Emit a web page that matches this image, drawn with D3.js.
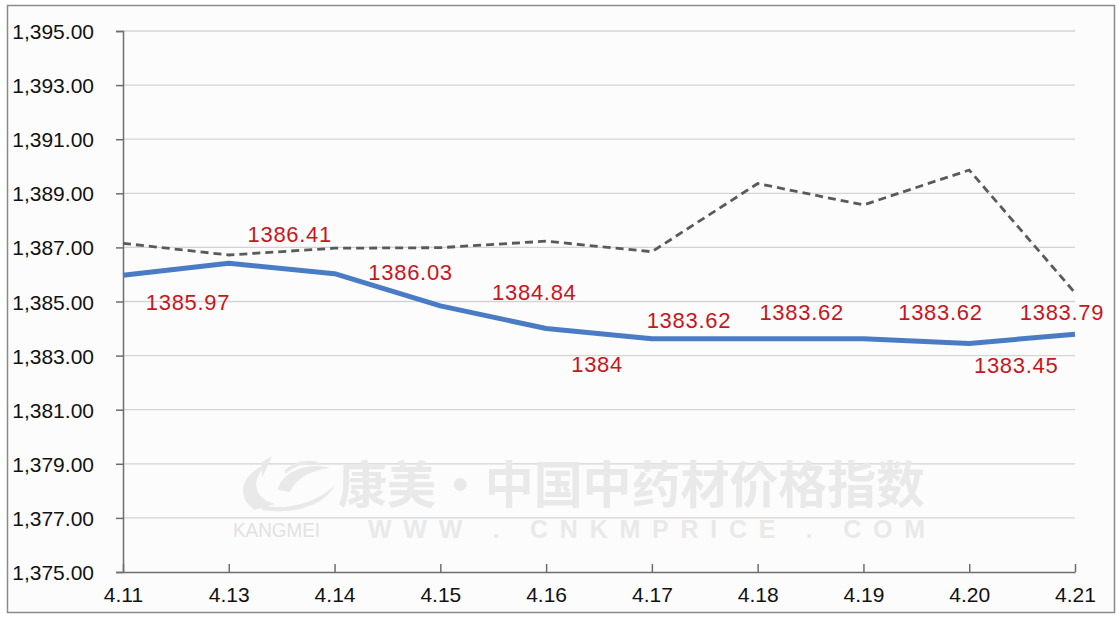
<!DOCTYPE html>
<html><head><meta charset="utf-8">
<script src="https://cdn.jsdelivr.net/npm/d3@7"></script>
<style>html,body{margin:0;padding:0;background:#fff;}svg{display:block;}</style>
</head><body>
<script>
// ---- data ----
const categories = ["4.11","4.13","4.14","4.15","4.16","4.17","4.18","4.19","4.20","4.21"];
const indexValues = [1385.97,1386.41,1386.03,1384.84,1384.00,1383.62,1383.62,1383.62,1383.45,1383.79];
const labelTexts = ["1385.97","1386.41","1386.03","1384.84","1384","1383.62","1383.62","1383.62","1383.45","1383.79"];
const compareValues = [1387.15,1386.72,1386.97,1386.99,1387.23,1386.84,1389.36,1388.57,1389.86,1385.32];
const yTicks = [1375,1377,1379,1381,1383,1385,1387,1389,1391,1393,1395];
// label placement (offset from its point, pixels)
const labelDx = [65,61,76,94,51,37,44,77,47,-13];
const labelDy = [35,-21,6,-6,43,-11,-19,-19,30,-14];

const W = 1118, H = 618;
const m = {left:123, right:1075, top:31, bottom:572};
const svg = d3.select("body").append("svg").attr("width",W).attr("height",H);

svg.append("rect").attr("x",7.5).attr("y",5.5).attr("width",1107).attr("height",607)
  .attr("fill","#fcfcfc").attr("stroke","#8a8a8a").attr("stroke-width",1.5);

const x = d3.scalePoint().domain(categories).range([m.left, m.right]).padding(0);
const y = d3.scaleLinear().domain([1375,1395]).range([m.bottom, m.top]);

// gridlines
svg.append("g").selectAll("line").data(yTicks.filter(t=>t>1375)).join("line")
  .attr("x1",m.left).attr("x2",m.right).attr("y1",d=>y(d)).attr("y2",d=>y(d))
  .attr("stroke","#d4d4d4").attr("stroke-width",1.3);

// watermark
const wm = svg.append("g").attr("fill","#e9e9e9");
wm.append("path").attr("d","M255,510 C238,500 238,478 262,466 L270,462 C250,478 252,498 275,504 Z");
wm.append("path").attr("d","M262,462 L272,456 L262,478 Z");
wm.append("path").attr("d","M278,490 C282,470 310,462 330,468 C312,470 296,478 290,492 Z");
wm.append("path").attr("d","M262,505 C290,512 320,500 335,485 C325,505 295,515 262,510 Z");
wm.append("path").attr("d","M285,470 C295,460 315,458 320,464 C305,462 295,466 285,474 Z");
wm.append("text").attr("x",338).attr("y",503).attr("font-family","'Noto Sans CJK SC'")
  .attr("font-weight","bold").attr("font-size",50).attr("textLength",587).attr("lengthAdjust","spacingAndGlyphs")
  .text("康美·中国中药材价格指数");
wm.append("text").attr("x",233).attr("y",537).attr("font-family","'Liberation Sans', Arial")
  .attr("font-size",20).attr("textLength",87).attr("lengthAdjust","spacingAndGlyphs").attr("fill","#e2e2e2")
  .text("KANGMEI");
wm.append("text").attr("x",368).attr("y",538).attr("font-family","'Liberation Sans', Arial")
  .attr("font-weight","bold").attr("font-size",25).attr("textLength",557).attr("lengthAdjust","spacing")
  .text("WWW . CNKMPRICE . COM");

// y axis
const yAxis = svg.append("g").attr("transform",`translate(${m.left},0)`)
  .call(d3.axisLeft(y).tickValues(yTicks).tickSize(7).tickPadding(22).tickFormat(d3.format(",.2f")));
yAxis.select(".domain").attr("stroke","#6e6e6e").attr("stroke-width",1.5);
yAxis.selectAll(".tick line").attr("stroke","#6e6e6e").attr("stroke-width",1.5);
yAxis.selectAll("text").attr("font-family","'Liberation Sans', Arial").attr("font-size",21).attr("fill","#111")
  .attr("dy","0.36em");

// x axis
const xAxis = svg.append("g").attr("transform",`translate(0,${m.bottom})`)
  .call(d3.axisBottom(x).tickSize(-8).tickSizeOuter(0).tickPadding(15));
xAxis.select(".domain").attr("stroke","#6e6e6e").attr("stroke-width",1.5);
xAxis.selectAll(".tick line").attr("stroke","#6e6e6e").attr("stroke-width",1.5);
xAxis.selectAll("text").attr("font-family","'Liberation Sans', Arial").attr("font-size",21).attr("fill","#111")
  .attr("dy","0.71em");

// lines
const line = d3.line().x((d,i)=>x(categories[i])).y(d=>y(d));
svg.append("path").datum(compareValues).attr("d",line).attr("fill","none")
  .attr("stroke","#5a5a5a").attr("stroke-width",2.8).attr("stroke-dasharray","8,5");
svg.append("path").datum(indexValues).attr("d",line).attr("fill","none")
  .attr("stroke","#4a7cc5").attr("stroke-width",5).attr("stroke-linejoin","round");

// labels
svg.append("g").selectAll("text").data(indexValues).join("text")
  .attr("x",(d,i)=>x(categories[i])+labelDx[i]).attr("y",(d,i)=>y(d)+labelDy[i])
  .attr("text-anchor","middle").attr("font-family","'Liberation Sans', Arial").attr("font-size",22)
  .attr("letter-spacing",0.7).attr("fill","#c8161d")
  .text((d,i)=>labelTexts[i]);
</script>
</body></html>
